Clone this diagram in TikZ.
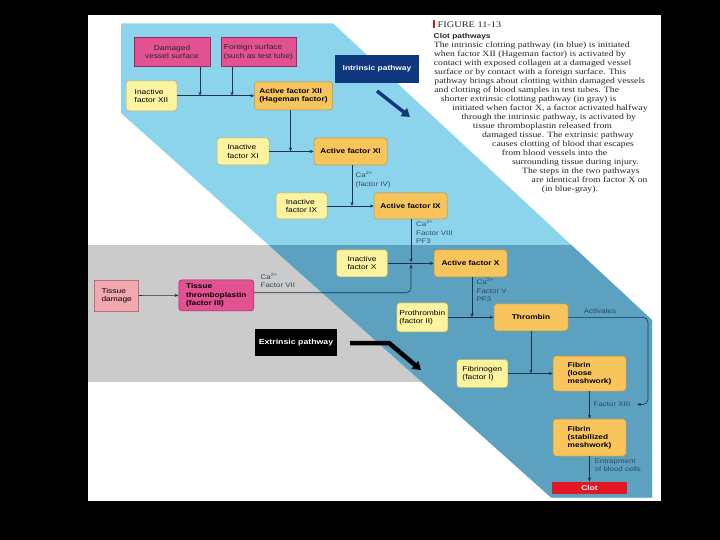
\documentclass[tikz,border=0pt]{standalone}
\definecolor{skyband}{RGB}{140,212,236}
\definecolor{steelband}{RGB}{92,162,192}
\definecolor{grayband}{RGB}{203,203,203}
\definecolor{paleyellow}{RGB}{252,243,160}
\definecolor{yellowline}{RGB}{196,176,86}
\definecolor{amber}{RGB}{248,196,92}
\definecolor{amberline}{RGB}{196,146,52}
\definecolor{magentapink}{RGB}{226,82,146}
\definecolor{magentaline}{RGB}{160,40,96}
\definecolor{palepink}{RGB}{244,168,176}
\definecolor{pinkline}{RGB}{190,110,120}
\definecolor{navyblue}{RGB}{16,56,126}
\definecolor{clotred}{RGB}{228,22,36}
\definecolor{flowline}{RGB}{24,52,80}
\definecolor{figred}{RGB}{190,30,40}
\usepackage{fontspec}
\setmainfont{Liberation Serif}[FakeStretch=1.2]
\setsansfont{Liberation Sans}[FakeStretch=1.2]
\usepackage{tikz}
\usetikzlibrary{arrows.meta,positioning}

\tikzset{
  box/.style={draw, line width=0.5pt, rounded corners=3pt, align=left, inner sep=2pt,
    font=\sffamily\fontsize{7}{8.2}\selectfont},
  inactive/.style={box, fill=paleyellow, draw=yellowline},
  active/.style={box, fill=amber, draw=amberline, font=\sffamily\bfseries\fontsize{6.9}{8.2}\selectfont},
  surface/.style={box, rounded corners=0pt, fill=magentapink, draw=magentaline, text=black!85},
  pathbox/.style={box, rounded corners=0pt, draw=none, text=white, font=\sffamily\bfseries\fontsize{7}{8}\selectfont},
  flow/.style={-{Stealth[length=4pt,width=3.2pt]}, draw=flowline, line width=0.6pt},
  note/.style={font=\sffamily\fontsize{6.6}{8.1}\selectfont, text=flowline!90, align=left, inner sep=0pt, anchor=north west},
  captxt/.style={font=\fontsize{8.1}{9}\selectfont, text=black!85, inner sep=0pt, anchor=base west},
  bigarrow/.style={line width=#1, -{Triangle[length=8pt,width=10pt]}},
}

\begin{document}
\begin{tikzpicture}[x=1pt,y=-1pt]
  \useasboundingbox (0,0) rectangle (720,540);
  \fill[black] (0,0) rectangle (720,540);
  \fill[white] (88,15) rectangle (661,501);

  % background bands
  \fill[grayband] (88,244.5) rectangle (430,382);
  \fill[skyband] (121,23.4) -- (333,23.4) -- (652,320) -- (652,497.5) -- (551,497.5) -- (121,113) -- cycle;
  \begin{scope}
    \clip (121,23.4) -- (333,23.4) -- (652,320) -- (652,497.5) -- (551,497.5) -- (121,113) -- cycle;
    \fill[steelband] (88,244.5) rectangle (661,501);
  \end{scope}

  % intrinsic pathway
  \node[surface, minimum width=76pt, minimum height=29pt, align=center] (dmg) at (172,52.2) {Damaged\\vessel surface};
  \node[surface, minimum width=75pt, minimum height=29pt] (foreign) at (258.5,52.2) {Foreign surface\\(such as test tube)};
  \node[inactive, minimum width=51pt, minimum height=30pt] (inxii) at (151.5,95.8) {Inactive\\factor XII};
  \node[active, minimum width=78pt, minimum height=28pt] (axii) at (293.5,95.8) {Active factor XII\\(Hageman factor)};
  \node[pathbox, fill=navyblue, minimum width=84pt, minimum height=28pt] (intr) at (377,69) {Intrinsic pathway};

  \node[inactive, minimum width=52pt, minimum height=27pt] (inxi) at (243,151.5) {Inactive\\factor XI};
  \node[active, minimum width=73pt, minimum height=27pt] (axi) at (350.5,151.5) {Active factor XI};
  \node[inactive, minimum width=51pt, minimum height=26pt] (inix) at (301.5,206) {Inactive\\factor IX};
  \node[active, minimum width=73pt, minimum height=26pt] (aix) at (410.5,206) {Active factor IX};
  \node[inactive, minimum width=51pt, minimum height=27pt] (inx) at (362,263.3) {Inactive\\factor X};
  \node[active, minimum width=73pt, minimum height=27pt] (ax) at (470.5,263.3) {Active factor X};

  % extrinsic pathway
  \node[box, rounded corners=0pt, fill=palepink, draw=pinkline, minimum width=44pt, minimum height=31pt] (tdmg) at (116.7,295.5) {Tissue\\damage};
  \node[active, fill=magentapink, draw=magentaline, minimum width=75pt, minimum height=31pt] (ttp) at (216.3,295.3) {Tissue\\thromboplastin\\(factor III)};
  \node[pathbox, fill=black, minimum width=82pt, minimum height=27pt, font=\sffamily\bfseries\fontsize{7.3}{8}\selectfont] (extr) at (296,342.5) {Extrinsic pathway};

  % common pathway
  \node[inactive, minimum width=51pt, minimum height=29pt] (proth) at (422.3,317.3) {Prothrombin\\(factor II)};
  \node[active, minimum width=74pt, minimum height=27pt] (thromb) at (531,317.3) {Thrombin};
  \node[inactive, minimum width=51pt, minimum height=28pt] (fibg) at (482.3,373.5) {Fibrinogen\\(factor I)};
  \node[active, minimum width=73pt, minimum height=35pt] (fibl) at (589.5,373.5) {Fibrin\\(loose\\meshwork)};
  \node[active, minimum width=73pt, minimum height=37pt] (fibs) at (589.5,437.5) {Fibrin\\(stabilized\\meshwork)};
  \node[pathbox, fill=clotred, minimum width=75pt, minimum height=12.5pt, inner sep=1pt] (clot) at (589.5,488) {Clot};

  % junctions
  \coordinate (jdmg) at (200,95.8);
  \coordinate (jfor) at (232,95.8);
  \coordinate (jxi) at (290.5,151.5);
  \coordinate (jix) at (352,206);
  \coordinate (jxtop) at (411,262.3);
  \coordinate (jxbot) at (411,264.5);
  \coordinate (cttp) at (411,292.7);
  \coordinate (jthr) at (472,317.3);
  \coordinate (jfib) at (531,373.5);
  \coordinate (ract1) at (648,317.3);
  \coordinate (ract2) at (648,404.5);
  \coordinate (kxiii) at (637,404.5);

  \draw[flow] (inxii.east) -- (inxii.east -| axii.west);
  \draw[flow] (dmg.south -| jdmg) -- (jdmg);
  \draw[flow] (foreign.south -| jfor) -- (jfor);
  \draw[flow] (axii.south -| jxi) -- (jxi);
  \draw[flow] (inxi) -- (axi);
  \draw[flow] (axi.south -| jix) -- (jix);
  \draw[flow] (inix) -- (aix);
  \draw[flow] (aix.south -| jxtop) -- (jxtop);
  \draw[flow] (inx) -- (ax);
  \draw[flow] (tdmg) -- (ttp);
  \draw[flow, rounded corners=5pt] ([yshift=2.6pt]ttp.east) -- (cttp) -- (jxbot);
  \draw[flow] (ax.south -| jthr) -- (jthr);
  \draw[flow] (proth) -- (thromb);
  \draw[flow, rounded corners=5pt] (thromb.east) -- (ract1) -- (ract2) -- (kxiii);
  \draw[flow] (thromb.south -| jfib) -- (jfib);
  \draw[flow] (fibg) -- (fibl);
  \draw[flow] (fibl.south) -- (fibl.south |- fibs.north);
  \draw[flow] (fibs.south) -- (fibs.south |- clot.north);

  % labels on the connectors
  \node[note] (lbliv) at (355.5,171.5) {Ca\textsuperscript{2+}\\(factor IV)};
  \node[note] (lblviii) at (416,220.5) {Ca\textsuperscript{2+}\\Factor VIII\\PF3};
  \node[note] (lblvii) at (260.5,273) {Ca\textsuperscript{2+}\\Factor VII};
  \node[note] (lblv) at (476.5,278.5) {Ca\textsuperscript{2+}\\Factor V\\PF3};
  \node[note, anchor=center] (lblact) at (600,311) {Activates};
  \node[note, anchor=west] (lblxiii) at (593.5,404.5) {Factor XIII};
  \node[note] (lblent) at (594.5,459) {Entrapment\\of blood cells};

  % pathway arrows
  \coordinate (intrA) at (377,91);
  \coordinate (intrB) at (410,117);
  \draw[bigarrow=3.5pt, navyblue] (intrA) -- (intrB);
  \coordinate (extrA) at (350,343);
  \coordinate (extrB) at (389,343);
  \coordinate (extrC) at (421,370);
  \draw[bigarrow=4.5pt, black] (extrA) -- (extrB) -- (extrC);

  % caption
  \fill[figred] (432.5,20.5) rectangle (435,28.5);
  \node[captxt, font=\fontsize{8.6}{9}\selectfont] (fig) at (437.5,28) {FIGURE 11-13};
  \node[captxt, font=\sffamily\bfseries\fontsize{7}{8}\selectfont] (captitle) at (433.5,38.3) {Clot pathways};
  \foreach \dx/\txt [count=\i] in {
      0/{The intrinsic clotting pathway (in blue) is initiated},
      0/{when factor XII (Hageman factor) is activated by},
      0/{contact with exposed collagen at a damaged vessel},
      0.5/{surface or by contact with a foreign surface. This},
      0.5/{pathway brings about clotting within damaged vessels},
      0.5/{and clotting of blood samples in test tubes. The},
      7/{shorter extrinsic clotting pathway (in gray) is},
      18.3/{initiated when factor X, a factor activated halfway},
      27.6/{through the intrinsic pathway, is activated by},
      39/{tissue thromboplastin released from},
      48.2/{damaged tissue. The extrinsic pathway},
      58.3/{causes clotting of blood that escapes},
      68/{from blood vessels into the},
      78.1/{surrounding tissue during injury.},
      88.2/{The steps in the two pathways},
      97.8/{are identical from factor X on},
      107.9/{(in blue-gray).}}
    \node[captxt] (cap\i) at (433.7+\dx, 47.8+8.975*\i-8.975) {\txt};
\end{tikzpicture}
\end{document}
